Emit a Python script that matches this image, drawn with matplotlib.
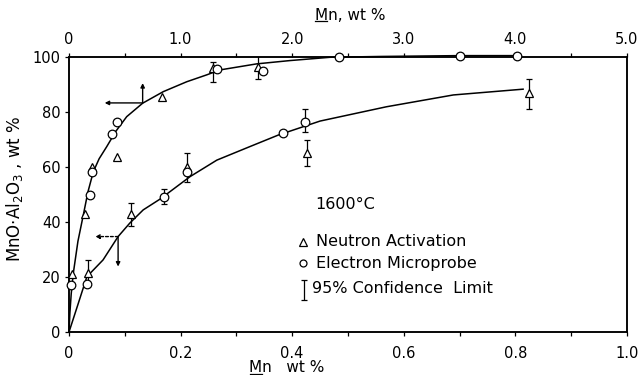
import numpy as np
import matplotlib
matplotlib.use("Agg")
import matplotlib.pyplot as plt
from matplotlib.lines import Line2D
from matplotlib.transforms import IdentityTransform

# upper curve, read against the top axis (Mn wt %, 0-5)
up_curve_x = [0, 0.008, 0.02, 0.039, 0.08, 0.128, 0.17, 0.218, 0.27, 0.338, 0.42, 0.517, 0.66, 0.845,
              1.055, 1.234, 1.353, 1.682, 1.98, 2.34, 2.8, 3.5, 4.0]
up_curve_y = [0, 7, 14, 21.5, 33, 42.5, 51, 58.3, 63, 67.4, 73, 78.3, 83.2, 87.4,
              91.0, 93.5, 95.3, 97.5, 98.7, 99.9, 100.2, 100.5, 100.5]

up_tri_x = [0.030, 0.139, 0.203, 0.427, 0.836, 1.293, 1.696]
up_tri_y = [21.1, 42.9, 60.0, 63.6, 85.6, 96.0, 96.5]
up_cir_x = [0.018, 0.188, 0.206, 0.388, 0.433, 1.329, 1.741, 2.419, 3.504, 4.012]
up_cir_y = [17.1, 49.8, 58.2, 72.0, 76.5, 95.6, 94.9, 99.9, 100.5, 100.5]

up_err_x = [1.293, 1.696]
up_err_lo = [91.0, 92.0]
up_err_hi = [98.3, 101.6]

# lower curve, read against the bottom axis (Mn wt %, 0-1)
lo_curve_x = [0, 0.016, 0.032, 0.061, 0.088, 0.109, 0.133, 0.163, 0.217, 0.265, 0.324, 0.375,
              0.45, 0.569, 0.689, 0.814]
lo_curve_y = [0, 10, 20.1, 26.2, 34.7, 39.6, 44.4, 48.3, 56.5, 62.5, 67.4, 71.6,
              76.7, 81.9, 86.2, 88.3]

lo_tri_x = [0.0335, 0.111, 0.211, 0.427, 0.824]
lo_tri_y = [21.5, 42.9, 60.0, 65.0, 86.8]
lo_cir_x = [0.032, 0.171, 0.211, 0.384, 0.423]
lo_cir_y = [17.5, 49.2, 58.2, 72.3, 76.5]

lo_err_x = [0.0335, 0.111, 0.171, 0.211, 0.427, 0.824, 0.423]
lo_err_lo = [17.0, 38.6, 46.5, 54.7, 60.5, 81.0, 72.8]
lo_err_hi = [26.0, 47.0, 52.0, 65.0, 69.8, 91.9, 81.0]

bottom_ticks = [0, 0.2, 0.4, 0.6, 0.8, 1.0]
bottom_labels = ['0', '0.2', '0.4', '0.6', '0.8', '1.0']
top_ticks = [0, 1, 2, 3, 4, 5]
top_labels = ['0', '1.0', '2.0', '3.0', '4.0', '5.0']
y_ticks = [0, 20, 40, 60, 80, 100]

plt.rcParams['font.family'] = ['DejaVu Sans']

fig = plt.figure(figsize=(6.39, 3.75), dpi=100)
ax = fig.add_axes([0.108, 0.1147, 0.873, 0.7333])
ax2 = ax.twiny()

mk = dict(linestyle='none', mfc='white', mec='black', mew=0.9, ms=6.2, zorder=4, clip_on=False)
eb = dict(fmt='none', ecolor='black', elinewidth=0.9, capsize=2.5, capthick=0.9, zorder=3)

# lower set
ax.plot(lo_curve_x, lo_curve_y, color='black', lw=1.1, zorder=2)
ax.errorbar(lo_err_x, [(a + b) / 2 for a, b in zip(lo_err_lo, lo_err_hi)],
            yerr=[(b - a) / 2 for a, b in zip(lo_err_lo, lo_err_hi)], **eb)
ax.plot(lo_tri_x, lo_tri_y, marker='^', **mk)
ax.plot(lo_cir_x, lo_cir_y, marker='o', **mk)

# upper set
ax2.plot(up_curve_x, up_curve_y, color='black', lw=1.1, zorder=2, clip_on=False)
ax2.errorbar(up_err_x, [(a + b) / 2 for a, b in zip(up_err_lo, up_err_hi)],
             yerr=[(b - a) / 2 for a, b in zip(up_err_lo, up_err_hi)], **eb)
ax2.plot(up_tri_x, up_tri_y, marker='^', **mk)
ax2.plot(up_cir_x, up_cir_y, marker='o', **mk)

# reading arrows
arr = dict(arrowstyle='-|>', color='black', lw=1.0, mutation_scale=6, shrinkA=0, shrinkB=0)
ax2.annotate('', xy=(0.32, 83.3), xytext=(0.66, 83.3), arrowprops=arr)
ax2.annotate('', xy=(0.66, 90.5), xytext=(0.66, 83.3), arrowprops=arr)
ax.annotate('', xy=(0.047, 34.7), xytext=(0.088, 34.7),
            arrowprops=dict(arr, linestyle=(0, (2, 1.5))))
ax.annotate('', xy=(0.088, 23.8), xytext=(0.088, 34.7), arrowprops=arr)

# legend drawn as text
ax.text(0.442, 46.2, '1600\u00b0C', fontsize=11.5, va='center')
ax.plot([0.419], [32.8], marker='^', linestyle='none', mfc='white', mec='black', mew=0.9, ms=6)
ax.text(0.442, 32.8, 'Neutron Activation', fontsize=11.5, va='center')
ax.plot([0.419], [25.0], marker='o', linestyle='none', mfc='white', mec='black', mew=0.9, ms=5)
ax.text(0.442, 25.0, 'Electron Microprobe', fontsize=11.5, va='center')
ax.errorbar([0.421], [15.2], yerr=[3.7], fmt='none', ecolor='black', elinewidth=0.9,
            capsize=2.5, capthick=0.9)
ax.text(0.435, 15.9, '95% Confidence  Limit', fontsize=11.5, va='center')

ax.set_xlim(0, 1)
ax.set_ylim(0, 100)
ax2.set_xlim(0, 5)
ax.set_xticks(bottom_ticks)
ax.set_xticklabels(bottom_labels)
ax.set_xticks(np.arange(0.1, 1.0, 0.2), minor=True)
ax.set_yticks(y_ticks)
ax2.set_xticks(top_ticks)
ax2.set_xticklabels(top_labels)
ax2.set_xticks(np.arange(0.5, 5.0, 1.0), minor=True)

ax.tick_params(axis='x', which='both', direction='out', length=3, width=0.9, pad=7, labelsize=10.5)
ax.tick_params(axis='y', direction='out', length=3, width=0.9, pad=3, labelsize=10.5)
ax2.tick_params(axis='x', which='both', direction='out', length=3, width=0.9, pad=4, labelsize=10.5)
for a in (ax, ax2):
    for s in a.spines.values():
        s.set_linewidth(1.1)
        s.set_color('black')

ax.set_xlabel('Mn   wt %', fontsize=11)
ax.xaxis.set_label_coords(0.391, -0.103)
ax2.set_xlabel('Mn, wt %', fontsize=11)
ax2.xaxis.set_label_coords(0.504, 1.135)
ax.set_ylabel(r'MnO$\cdot$Al$_2$O$_3$ , wt %', fontsize=12)
ax.yaxis.set_label_coords(-0.078, 0.52)

# underline the "M" of both axis titles
fig.canvas.draw()
r = fig.canvas.get_renderer()
tmp = fig.text(0, 0, 'M', fontsize=11)
m_w = tmp.get_window_extent(r).width
tmp.remove()
for lab in (ax.xaxis.label, ax2.xaxis.label):
    bb = lab.get_window_extent(r)
    y = bb.y0 + 1.5
    fig.add_artist(Line2D([bb.x0 + 0.5, bb.x0 + m_w - 1], [y, y], color='black', lw=0.9,
                          transform=IdentityTransform()))

fig.savefig('out.png', dpi=100)
